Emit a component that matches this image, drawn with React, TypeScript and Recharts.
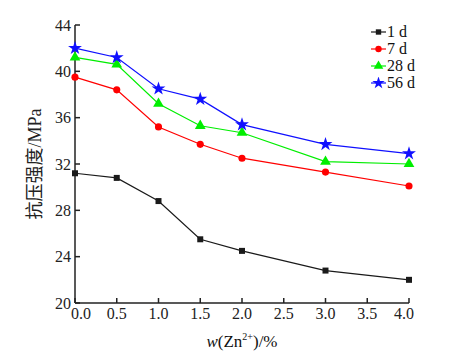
import { LineChart, Line, XAxis, YAxis, Symbols } from "recharts";

const zn = [0, 0.5, 1.0, 1.5, 2.0, 3.0, 4.0];
const d1 = [31.2, 30.8, 28.8, 25.5, 24.5, 22.8, 22.0];
const d7 = [39.5, 38.4, 35.2, 33.7, 32.5, 31.3, 30.1];
const d28 = [41.2, 40.6, 37.2, 35.3, 34.7, 32.2, 32.0];
const d56 = [42.0, 41.2, 38.5, 37.6, 35.4, 33.7, 32.9];
const xTicks = [0, 0.5, 1, 1.5, 2, 2.5, 3, 3.5, 4];
const yTicks = [20, 24, 28, 32, 36, 40, 44];

const series = [
  { key: "d1", name: "1 d", color: "#1a1a1a", shape: "square", size: 36 },
  { key: "d7", name: "7 d", color: "#ff0000", shape: "circle", size: 40 },
  { key: "d28", name: "28 d", color: "#00ee00", shape: "triangle", size: 50 },
  { key: "d56", name: "56 d", color: "#1010ff", shape: "star", size: 60 },
];

const data = zn.map((x, i) => ({
  x,
  d1: d1[i],
  d7: d7[i],
  d28: d28[i],
  d56: d56[i],
}));

const font = "'Liberation Serif', 'Times New Roman', serif";

function makeDot(s: any) {
  return (p: any) => (
    <Symbols
      key={p.index}
      cx={p.cx}
      cy={p.cy}
      type={s.shape}
      size={s.size}
      fill={s.color}
      stroke="none"
    />
  );
}

function LegendBox() {
  return (
    <div
      style={{
        position: "absolute",
        left: 371,
        top: 23,
        fontFamily: font,
        fontSize: 16,
        lineHeight: "17px",
        color: "#111",
      }}
    >
      {series.map((s) => (
        <div key={s.key} style={{ display: "flex", alignItems: "center", height: 17 }}>
          <svg width={16} height={12}>
            <line x1={0} y1={6} x2={15} y2={6} stroke={s.color} strokeWidth={1.2} />
            <Symbols cx={7.5} cy={6} type={s.shape as any} size={s.size * 0.8} fill={s.color} />
          </svg>
          <span>{s.name}</span>
        </div>
      ))}
    </div>
  );
}

// first/last x labels sit a bit inward, like the original
function XTick(props: any) {
  const { x, y, payload } = props;
  const v = payload.value;
  const shift = v === 0 ? 6 : v === 4 ? -5 : 0;
  return (
    <text x={x + shift} y={y + 12} textAnchor="middle" fontFamily={font} fontSize={16} fill="#222">
      {Number(v).toFixed(1)}
    </text>
  );
}

function XLabel(props: any) {
  const vb = props.viewBox;
  const cx = vb.x + vb.width / 2;
  const y = vb.y + 44;
  return (
    <text x={cx} y={y} textAnchor="middle" fontFamily={font} fontSize={17} fill="#111">
      <tspan fontStyle="italic">w</tspan>
      <tspan>(Zn</tspan>
      <tspan fontSize={10} dy={-7}>2+</tspan>
      <tspan dy={7}>)/%</tspan>
    </text>
  );
}

function YLabel() {
  const cx = 41;
  const cy = 164;
  return (
    <text
      x={cx}
      y={cy}
      textAnchor="middle"
      transform={`rotate(-90, ${cx}, ${cy})`}
      fontFamily="'Liberation Serif', 'Noto Sans CJK SC', serif"
      fontSize={18}
      fill="#222"
    >
      抗压强度/MPa
    </text>
  );
}

export default function App() {
  return (
    <div style={{ position: "absolute", left: 0, top: 0, background: "#fff" }}>
      <LineChart
        width={476}
        height={359}
        data={data}
        margin={{ top: 25, right: 67, bottom: 0, left: 0 }}
      >
        <XAxis
          dataKey="x"
          type="number"
          domain={[0, 4]}
          ticks={xTicks}
          tickSize={-5}
          tickMargin={9}
          height={56}
          stroke="#222"
          strokeWidth={1.5}
          tick={<XTick />}
          label={<XLabel />}
          interval={0}
        />
        <YAxis
          type="number"
          domain={[20, 44]}
          ticks={yTicks}
          tickSize={-5}
          tickMargin={9}
          width={75}
          stroke="#222"
          strokeWidth={1.5}
          tick={{ fill: "#222", fontFamily: font, fontSize: 16 }}
          label={<YLabel />}
          interval={0}
        />
        {series.map((s) => (
          <Line
            key={s.key}
            dataKey={s.key}
            name={s.name}
            stroke={s.color}
            strokeWidth={1.2}
            dot={makeDot(s)}
            activeDot={false}
            isAnimationActive={false}
          />
        ))}
      </LineChart>
      <LegendBox />
    </div>
  );
}
